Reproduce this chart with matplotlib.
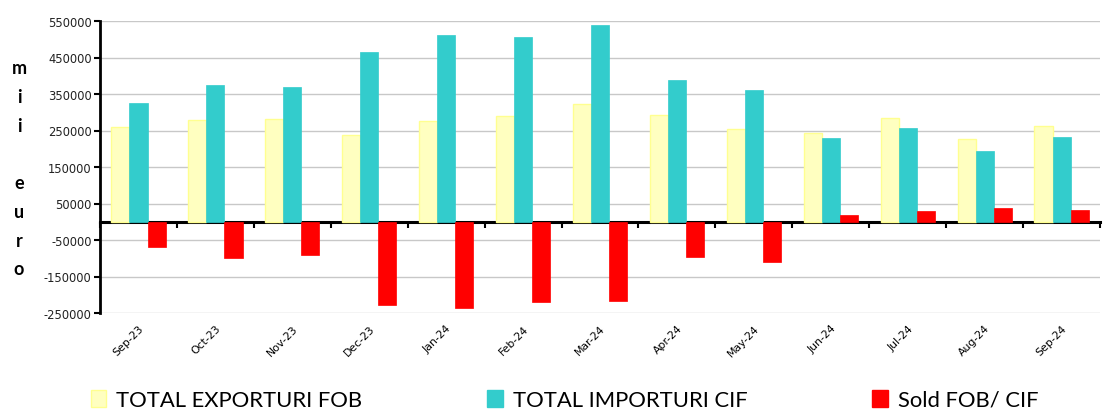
import matplotlib
matplotlib.use("Agg")
import matplotlib.pyplot as plt
import numpy as np
from matplotlib.patches import Patch

months = ["Sep-23", "Oct-23", "Nov-23", "Dec-23", "Jan-24", "Feb-24", "Mar-24",
          "Apr-24", "May-24", "Jun-24", "Jul-24", "Aug-24", "Sep-24"]
exporturi = [260200, 278500, 282000, 238300, 276600, 289400, 323900,
             293800, 252800, 243000, 282900, 226500, 261000]
importuri = [326600, 375800, 370400, 464300, 512500, 507000, 539000,
             388600, 361300, 229300, 256600, 192700, 232000]
sold = [-69700, -100600, -91500, -229000, -237200, -220000, -218100,
        -97000, -110700, 17500, 29700, 38800, 33300]
yticks = list(range(-250000, 550001, 100000))
legend_labels = ["TOTAL EXPORTURI FOB", "TOTAL IMPORTURI CIF", "Sold FOB/ CIF"]

W, H = 1103, 410
fig = plt.figure(figsize=(W / 100, H / 100), dpi=100)
ax = fig.add_axes([100 / W, (H - 314) / H, 1000 / W, 292 / H])

x = np.arange(len(months))
bw = 0.235
ax.bar(x - bw, exporturi, bw, color="#FFFFC0", edgecolor="#FFFF90", linewidth=1, zorder=3)
ax.bar(x, importuri, bw, color="#33CCCC", edgecolor="#33CCCC", linewidth=0.5, zorder=3)
ax.bar(x + bw, sold, bw, color="#FF0000", edgecolor="#FF0000", linewidth=0.5, zorder=3)

ymin, ymax = -250000, 550000
ax.set_ylim(ymin, ymax)
ax.set_xlim(-0.5, len(months) - 0.5)
ax.set_yticks(yticks)
ax.set_yticklabels([str(v) for v in yticks], fontsize=8.3, color="#222222")
ax.yaxis.grid(True, color="#C8C8C8", linewidth=1, zorder=0)
ax.tick_params(axis="y", direction="out", length=4, width=1.5, color="black", pad=2)

for s in ["top", "right", "bottom"]:
    ax.spines[s].set_visible(False)
ax.spines["left"].set_linewidth(2)
ax.spines["left"].set_color("black")

# category labels at the bottom
ax.set_xticks(x)
ax.set_xticklabels(months, rotation=45, ha="right", rotation_mode="anchor", fontsize=7.8)
ax.tick_params(axis="x", length=0, pad=7)

# zero axis with ticks between categories
zero_frac = (0 - ymin) / (ymax - ymin)
sec = ax.secondary_xaxis(zero_frac)
sec.set_xticks(np.arange(len(months) + 1) - 0.5)
sec.set_xticklabels([])
sec.tick_params(direction="out", length=4, width=1.5, color="black")
sec.spines["bottom"].set_linewidth(2.2)
sec.spines["bottom"].set_color("black")
sec.spines["bottom"].set_zorder(5)

# vertical unit label
letters = ["m", "i", "i", "", "e", "u", "r", "o"]
y0, step = 69, 28.7
for i, ch in enumerate(letters):
    if ch:
        fig.text(19 / W, 1 - (y0 + i * step) / H, ch, ha="center", va="center",
                 fontsize=13, fontweight="bold", family=["Lato", "DejaVu Sans"])

handles = [Patch(facecolor="#FFFFC0", edgecolor="#FFFF90"),
           Patch(facecolor="#33CCCC", edgecolor="#33CCCC"),
           Patch(facecolor="#FF0000", edgecolor="#FF0000")]
leg = fig.legend(handles, legend_labels, ncol=3, loc="lower left",
                 bbox_to_anchor=(91 / W, -1 / H), frameon=False,
                 prop={"family": ["Lato", "DejaVu Sans"], "size": 15.8},
                 handlelength=0.7, handleheight=0.85, handletextpad=0.45,
                 columnspacing=5.7, borderpad=0, borderaxespad=0)

fig.savefig("out.png", dpi=100)
